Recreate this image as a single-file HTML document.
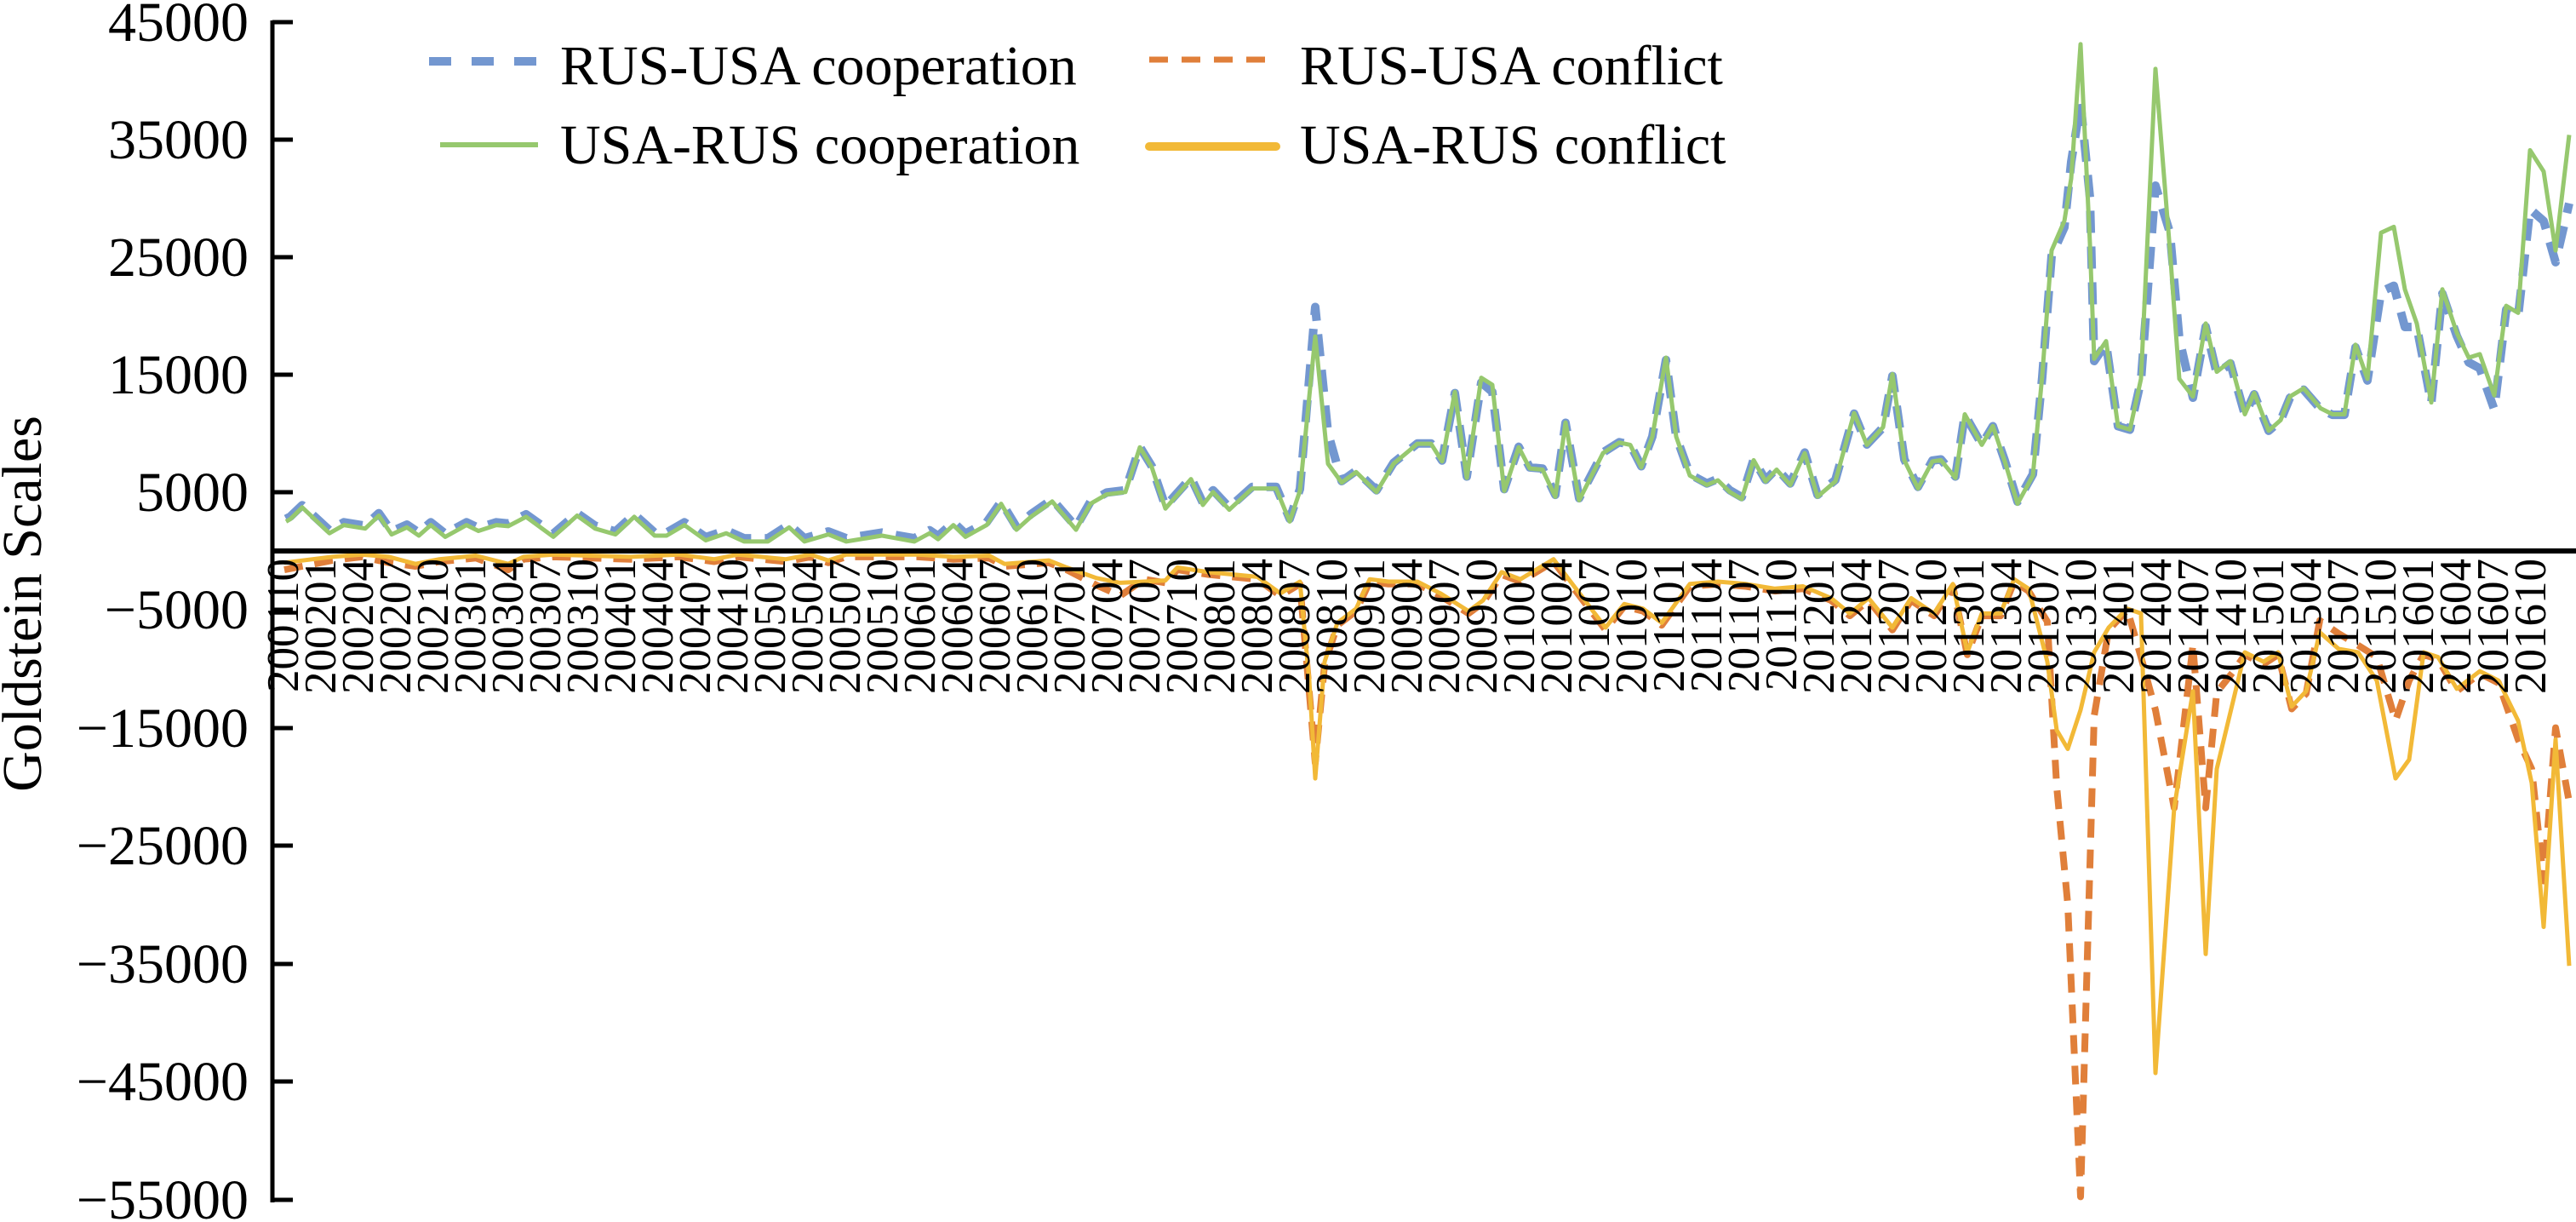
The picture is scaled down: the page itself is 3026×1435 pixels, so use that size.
<!DOCTYPE html>
<html><head><meta charset="utf-8"><style>
html,body{margin:0;padding:0;background:#fff;}
svg{display:block;}
text{font-family:"Liberation Serif","Times New Roman",serif;}
</style></head><body>
<svg id="s" width="3026" height="1435" viewBox="0 0 3026 1435" xmlns="http://www.w3.org/2000/svg" font-family="Liberation Serif, serif">
<rect width="3026" height="1435" fill="#fff"/>
<g id="series"></g>
<line x1="320" y1="24" x2="320" y2="1412" stroke="#000" stroke-width="5"/>
<line x1="318" y1="647" x2="3026" y2="647" stroke="#000" stroke-width="6"/>
<g stroke="#000" stroke-width="5">
<line x1="320" y1="26" x2="344" y2="26"/><line x1="320" y1="164" x2="344" y2="164"/>
<line x1="320" y1="302" x2="344" y2="302"/><line x1="320" y1="440" x2="344" y2="440"/>
<line x1="320" y1="578" x2="344" y2="578"/><line x1="320" y1="716" x2="344" y2="716"/>
<line x1="320" y1="855" x2="344" y2="855"/><line x1="320" y1="993" x2="344" y2="993"/>
<line x1="320" y1="1132" x2="344" y2="1132"/><line x1="320" y1="1270" x2="344" y2="1270"/>
<line x1="320" y1="1409" x2="344" y2="1409"/>
</g>
<g font-size="66" text-anchor="end" fill="#000" font-family="Liberation Serif, serif">
<text x="292" y="48">45000</text><text x="292" y="186">35000</text>
<text x="292" y="324">25000</text><text x="292" y="462">15000</text>
<text x="292" y="600">5000</text><text x="292" y="738">−5000</text>
<text x="292" y="877">−15000</text><text x="292" y="1015">−25000</text>
<text x="292" y="1154">−35000</text><text x="292" y="1292">−45000</text>
<text x="292" y="1431">−55000</text>
</g>
<text transform="translate(48,709) rotate(-90)" font-size="66" text-anchor="middle" font-family="Liberation Serif, serif">Goldstein Scales</text>
<line x1="504" y1="72" x2="632" y2="72" stroke="#7397d0" stroke-width="10" stroke-dasharray="26,24"/>
<line x1="517" y1="170" x2="632" y2="170" stroke="#96c86e" stroke-width="6"/>
<line x1="1350" y1="70" x2="1499" y2="70" stroke="#e07f3a" stroke-width="7" stroke-dasharray="22,16"/>
<line x1="1350" y1="172" x2="1499" y2="172" stroke="#f2b937" stroke-width="10" stroke-linecap="round"/>
<g font-size="66" font-family="Liberation Serif, serif">
<text x="658" y="99">RUS-USA cooperation</text>
<text x="658" y="192">USA-RUS cooperation</text>
<text x="1527" y="99">RUS-USA conflict</text>
<text x="1527" y="192">USA-RUS conflict</text>
</g>
<g id="xlabels" font-size="53" text-anchor="end" font-family="Liberation Serif, serif">
<text transform="translate(350,656) rotate(-90)">200110</text>
<text transform="translate(394,656) rotate(-90)">200201</text>
<text transform="translate(438,656) rotate(-90)">200204</text>
<text transform="translate(482,656) rotate(-90)">200207</text>
<text transform="translate(526,656) rotate(-90)">200210</text>
<text transform="translate(570,656) rotate(-90)">200301</text>
<text transform="translate(614,656) rotate(-90)">200304</text>
<text transform="translate(658,656) rotate(-90)">200307</text>
<text transform="translate(702,656) rotate(-90)">200310</text>
<text transform="translate(746,656) rotate(-90)">200401</text>
<text transform="translate(790,656) rotate(-90)">200404</text>
<text transform="translate(834,656) rotate(-90)">200407</text>
<text transform="translate(878,656) rotate(-90)">200410</text>
<text transform="translate(922,656) rotate(-90)">200501</text>
<text transform="translate(966,656) rotate(-90)">200504</text>
<text transform="translate(1010,656) rotate(-90)">200507</text>
<text transform="translate(1054,656) rotate(-90)">200510</text>
<text transform="translate(1098,656) rotate(-90)">200601</text>
<text transform="translate(1142,656) rotate(-90)">200604</text>
<text transform="translate(1186,656) rotate(-90)">200607</text>
<text transform="translate(1230,656) rotate(-90)">200610</text>
<text transform="translate(1274,656) rotate(-90)">200701</text>
<text transform="translate(1318,656) rotate(-90)">200704</text>
<text transform="translate(1362,656) rotate(-90)">200707</text>
<text transform="translate(1406,656) rotate(-90)">200710</text>
<text transform="translate(1450,656) rotate(-90)">200801</text>
<text transform="translate(1494,656) rotate(-90)">200804</text>
<text transform="translate(1538,656) rotate(-90)">200807</text>
<text transform="translate(1582,656) rotate(-90)">200810</text>
<text transform="translate(1626,656) rotate(-90)">200901</text>
<text transform="translate(1670,656) rotate(-90)">200904</text>
<text transform="translate(1714,656) rotate(-90)">200907</text>
<text transform="translate(1758,656) rotate(-90)">200910</text>
<text transform="translate(1802,656) rotate(-90)">201001</text>
<text transform="translate(1846,656) rotate(-90)">201004</text>
<text transform="translate(1890,656) rotate(-90)">201007</text>
<text transform="translate(1934,656) rotate(-90)">201010</text>
<text transform="translate(1978,656) rotate(-90)">201101</text>
<text transform="translate(2022,656) rotate(-90)">201104</text>
<text transform="translate(2066,656) rotate(-90)">201107</text>
<text transform="translate(2110,656) rotate(-90)">201110</text>
<text transform="translate(2154,656) rotate(-90)">201201</text>
<text transform="translate(2198,656) rotate(-90)">201204</text>
<text transform="translate(2242,656) rotate(-90)">201207</text>
<text transform="translate(2286,656) rotate(-90)">201210</text>
<text transform="translate(2330,656) rotate(-90)">201301</text>
<text transform="translate(2374,656) rotate(-90)">201304</text>
<text transform="translate(2418,656) rotate(-90)">201307</text>
<text transform="translate(2462,656) rotate(-90)">201310</text>
<text transform="translate(2506,656) rotate(-90)">201401</text>
<text transform="translate(2550,656) rotate(-90)">201404</text>
<text transform="translate(2594,656) rotate(-90)">201407</text>
<text transform="translate(2638,656) rotate(-90)">201410</text>
<text transform="translate(2682,656) rotate(-90)">201501</text>
<text transform="translate(2726,656) rotate(-90)">201504</text>
<text transform="translate(2770,656) rotate(-90)">201507</text>
<text transform="translate(2814,656) rotate(-90)">201510</text>
<text transform="translate(2858,656) rotate(-90)">201601</text>
<text transform="translate(2902,656) rotate(-90)">201604</text>
<text transform="translate(2946,656) rotate(-90)">201607</text>
<text transform="translate(2990,656) rotate(-90)">201610</text>
</g>
</svg>
<script>
function Y(v){return 647-v*13.84;}
var green=[[336,2.5],[341,2.7],[355,3.7],[387,1.5],[404,2.2],[429,1.9],[445,3.0],[460,1.4],[478,2.0],[492,1.3],[506,2.2],[523,1.2],[548,2.2],[562,1.7],[583,2.2],[597,2.1],[618,2.9],[650,1.2],[678,3.0],[699,1.9],[723,1.4],[745,2.9],[769,1.3],[783,1.3],[804,2.2],[829,0.9],[853,1.5],[874,0.8],[902,0.8],[927,2.0],[945,0.8],[973,1.4],[994,0.8],[1036,1.3],[1074,0.8],[1092,1.5],[1102,1.0],[1120,2.2],[1134,1.2],[1159,2.2],[1176,4.0],[1194,1.8],[1211,2.9],[1236,4.2],[1264,1.8],[1281,4.0],[1300,4.8],[1322,5.0],[1339,8.8],[1353,7.1],[1369,3.6],[1399,6.1],[1413,3.9],[1425,5.0],[1444,3.5],[1471,5.3],[1499,5.3],[1515,2.5],[1527,5.1],[1545,18.2],[1560,7.4],[1576,5.8],[1593,6.7],[1617,5.0],[1637,7.4],[1665,9.1],[1681,9.1],[1694,7.6],[1709,13.5],[1723,6.2],[1740,14.7],[1753,14.1],[1767,5.1],[1784,8.8],[1797,7.0],[1812,6.9],[1827,4.6],[1839,10.9],[1855,4.3],[1883,8.3],[1902,9.2],[1915,9.0],[1928,7.1],[1941,9.7],[1957,16.4],[1969,9.7],[1985,6.4],[2005,5.6],[2018,6.0],[2032,5.0],[2046,4.4],[2060,7.7],[2074,5.9],[2087,6.9],[2103,5.6],[2120,8.3],[2135,4.6],[2156,5.9],[2178,11.7],[2193,9.0],[2212,10.5],[2223,15.0],[2237,7.7],[2253,5.3],[2270,7.6],[2280,7.7],[2297,6.2],[2308,11.6],[2328,9.0],[2341,10.6],[2355,7.6],[2370,4.0],[2388,6.4],[2399,14.9],[2410,25.5],[2425,28.0],[2433,31.6],[2444,43.0],[2455,26.1],[2460,16.3],[2474,17.8],[2488,10.6],[2502,10.3],[2515,14.6],[2532,40.9],[2549,25.5],[2560,14.6],[2576,13.1],[2591,19.3],[2604,15.2],[2620,16.1],[2637,11.6],[2648,13.4],[2665,10.2],[2679,11.1],[2690,13.1],[2706,13.8],[2726,12.1],[2740,11.6],[2754,11.6],[2767,17.5],[2781,14.6],[2797,27.0],[2812,27.5],[2825,22.2],[2839,19.3],[2856,12.6],[2869,22.2],[2886,18.5],[2900,16.4],[2913,16.7],[2930,13.2],[2944,20.8],[2958,20.2],[2972,34.0],[2988,32.2],[3002,25.5],[3018,35.3]];
var bo={1545:20.7,1560:10,2433:33,2444:38,2455:30,2532:31,2549:27,2560:18,2797:22,2812:22.5,2825:19,2900:16,2913:15.5,2930:12,2972:29,2988:28,3002:24.5,3018:29.5,2188:8.5,1740:14.3,1753:13.5};
var blue=green.map(function(p){return [p[0], bo[p[0]]!==undefined?bo[p[0]]:p[1]*0.97+0.3];});
var yellow=[[334,-1.0],[390,-0.5],[425,-0.3],[457,-0.5],[488,-1.1],[516,-0.7],[559,-0.4],[597,-1.1],[615,-0.5],[650,-0.3],[741,-0.5],[797,-0.3],[839,-0.7],[867,-0.3],[923,-0.7],[952,-0.3],[973,-0.8],[994,-0.3],[1078,-0.3],[1120,-0.5],[1162,-0.4],[1180,-1.1],[1232,-0.8],[1253,-1.4],[1288,-2.3],[1316,-2.7],[1344,-2.6],[1369,-2.5],[1383,-1.4],[1420,-1.8],[1477,-2.2],[1504,-3.6],[1527,-2.6],[1538,-11],[1545,-19.3],[1556,-9.4],[1571,-6.1],[1593,-4.9],[1609,-2.4],[1631,-2.6],[1665,-2.6],[1692,-3.6],[1725,-5.1],[1742,-4.2],[1764,-1.8],[1786,-2.4],[1825,-0.7],[1847,-2.8],[1886,-6.5],[1908,-4.5],[1930,-4.9],[1952,-6.1],[1985,-2.8],[2018,-2.6],[2051,-2.8],[2085,-3.2],[2118,-3.0],[2151,-4.0],[2173,-5.3],[2195,-4.0],[2223,-6.5],[2245,-4.0],[2272,-5.3],[2294,-2.8],[2311,-8.6],[2328,-5.3],[2350,-5.3],[2366,-2.4],[2383,-3.2],[2405,-9.4],[2416,-15.2],[2429,-16.8],[2444,-13.5],[2460,-8.6],[2477,-6.5],[2499,-4.9],[2515,-5.3],[2532,-44.3],[2554,-21.8],[2576,-11.9],[2591,-34.2],[2604,-18.5],[2626,-11.9],[2637,-8.6],[2659,-9.4],[2676,-8.6],[2692,-13.2],[2709,-11.9],[2725,-6.9],[2747,-8.3],[2770,-8.6],[2792,-11],[2814,-19.3],[2830,-17.7],[2847,-8.6],[2864,-9.0],[2886,-11.7],[2913,-10.2],[2935,-11],[2958,-14.4],[2974,-19.7],[2988,-31.9],[3002,-16],[3018,-35.2]];
var oo={334:-1.6,390:-0.8,457:-1.0,590:-2.5,597:-1.6,1253:-1.6,1288:-2.9,1316:-3.8,1344:-2.4,1397:-3.0,1538:-12,1545:-18,2405:-6,2416:-20,2429:-30,2444:-54.8,2460:-14,2499:-5,2515:-9,2532:-13.5,2554:-21.8,2576:-8,2591:-21.8,2604:-12,2626:-10,2725:-5.9,2747:-7,2770:-8,2792:-9,2814:-14.4,2830:-11,2958:-16,2974:-18.5,2988:-28,3002:-15,3018:-21.3};
var orange=yellow.map(function(p){return [p[0], oo[p[0]]!==undefined?oo[p[0]]:p[1]-0.2];});
function pl(d,col,w,dash){var s=d.map(function(p){return p[0]+','+Y(p[1]).toFixed(1);}).join(' ');
return '<polyline points="'+s+'" fill="none" stroke="'+col+'" stroke-width="'+w+'" stroke-linejoin="round"'+(dash?' stroke-dasharray="'+dash+'"':'')+'/>';}
document.getElementById('series').innerHTML=pl(blue,'#7397d0',10,'26,16')+pl(orange,'#e07f3a',8,'22,14')+pl(green,'#96c86e',5)+pl(yellow,'#f2b937',5);
</script>
</body></html>
